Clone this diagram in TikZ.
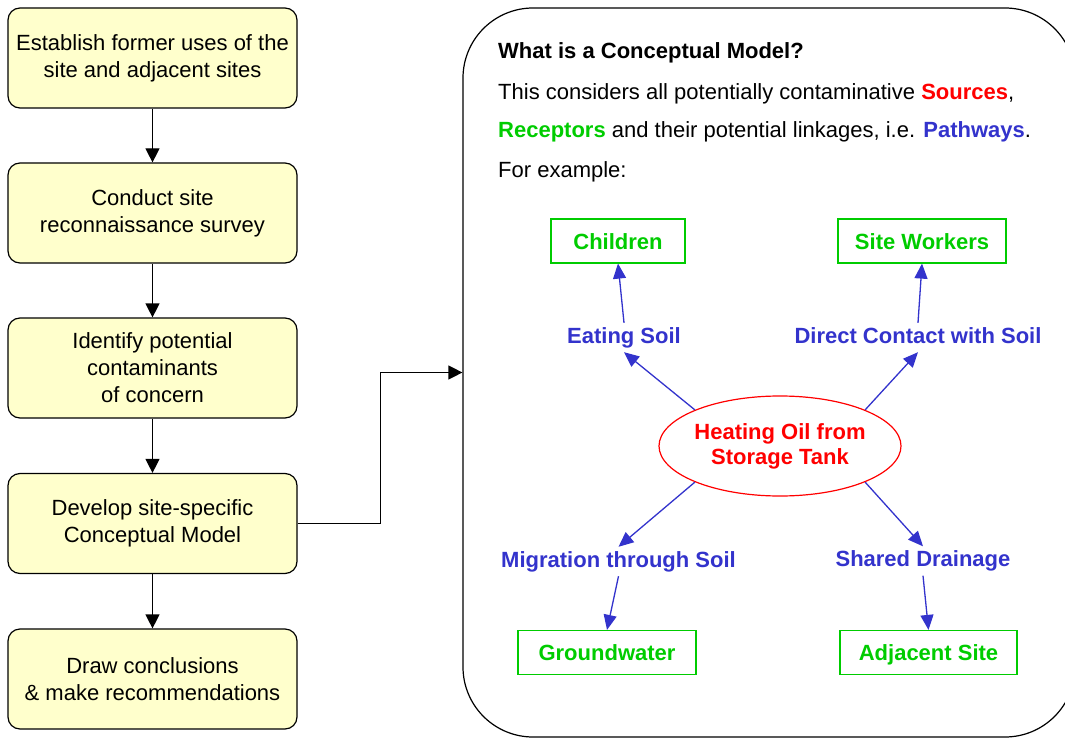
\documentclass[tikz,border=0pt]{standalone}
\usepackage{fontspec}
\setmainfont{Liberation Sans}
\usepackage{tikz}
\usetikzlibrary{arrows.meta,shapes.geometric}
\definecolor{stagefill}{RGB}{255,255,204}
\definecolor{srcred}{RGB}{255,0,0}
\definecolor{recgreen}{RGB}{0,204,0}
\definecolor{pathblue}{RGB}{51,51,204}
\tikzset{
  stage/.style={
    shape = rectangle,
    rounded corners = 12pt,
    draw,
    fill = stagefill,
    line width = 1.2pt,
    minimum width = 289pt,
    minimum height = 100pt,
    align = center
  },
}
\tikzset{
  panel/.style={
    shape = rectangle,
    rounded corners = 70pt,
    draw,
    line width = 1.2pt,
    minimum width = 612pt,
    minimum height = 729pt,
    inner sep = 0pt
  },
}
\tikzset{
  source/.style={
    shape = ellipse,
    draw = srcred,
    text = srcred,
    line width = 1.2pt,
    minimum width = 236pt,
    minimum height = 100pt,
    inner sep = 0pt,
    align = center,
    font = \fontsize{22}{25}\selectfont\bfseries
  },
  receptor/.style={
    shape = rectangle,
    draw = recgreen,
    text = recgreen,
    line width = 1.2pt,
    minimum height = 44pt,
    inner xsep = 2pt,
    text height = 16pt,
    text depth = 0pt,
    font = \fontsize{22}{27}\selectfont\bfseries
  },
  pathway/.style={
    text = pathblue,
    inner sep = 4pt,
    text height = 16pt,
    text depth = 5pt,
    font = \fontsize{22}{27}\selectfont\bfseries
  },
  line/.style={
    anchor = base west,
    inner sep = 0pt
  },
  flow/.style={
    line width = 1.2pt,
    -{Triangle[length=14pt,width=14pt]}
  },
  link/.style={
    pathblue,
    line width = 1.3pt,
    -{Triangle[length=15pt,width=13pt]}
  }
}
\begin{document}
\begin{tikzpicture}[x=1pt, y=-1pt, font=\fontsize{22}{27}\selectfont]
    \useasboundingbox (0,0) rectangle (1065,738);

    % steps of the assessment
    \node[stage] (s1) at (152.5,58) {Establish former uses of the\\site and adjacent sites};
    \node[stage] (s2) at (152.5,213) {Conduct site\\reconnaissance survey};
    \node[stage] (s3) at (152.5,368) {Identify potential\\contaminants\\of concern};
    \node[stage] (s4) at (152.5,523.5) {Develop site-specific\\Conceptual Model};
    \node[stage] (s5) at (152.5,679) {Draw conclusions\\\& make recommendations};

    \draw[flow] (s1) -- (s2);
    \draw[flow] (s2) -- (s3);
    \draw[flow] (s3) -- (s4);
    \draw[flow] (s4) -- (s5);

    % conceptual model panel
    \node[panel] (panel) at (769,372.5) {};
    \draw[flow] (s4.east) -- ++(83,0) |- (panel.west);

    \node[line] (title) at (498,59) {\bfseries What is a Conceptual Model?};
    \node[line] (intro) at (498,100) {This considers all potentially contaminative \textcolor{srcred}{\bfseries Sources},};
    \node[line] (links) at (498,138) {\textcolor{recgreen}{\bfseries Receptors} and their potential linkages, i.e. \textcolor{pathblue}{\bfseries Pathways}.};
    \node[line] (eg) at (498,178) {For example:};

    \node[source] (oil) at (780,446) {Heating Oil from\\Storage Tank};

    \node[pathway] (eat) at (624,337.5) {Eating Soil};
    \node[pathway] (touch) at (918,337.5) {Direct Contact with Soil};
    \node[pathway] (migr) at (618.5,561.5) {Migration through Soil};
    \node[pathway] (drain) at (923,561) {Shared Drainage};

    \node[receptor, minimum width=134pt] (kids) at (618,241) {Children};
    \node[receptor, minimum width=168pt] (workers) at (922,241) {Site Workers};
    \node[receptor, minimum width=178pt] (ground) at (607,652.5) {Groundwater};
    \node[receptor, minimum width=177pt] (adj) at (928.5,652.5) {Adjacent Site};

    \draw[link] (oil.157) -- (eat.south);
    \draw[link] (oil.23) -- (touch.south);
    \draw[link] (oil.203) -- (migr.north);
    \draw[link] (oil.-23) -- (drain.north);

    \draw[link] (eat.north) -- (kids.south);
    \draw[link] (touch.north) -- (workers.south);
    \draw[link] (migr.south) -- (ground.north);
    \draw[link] (drain.south) -- (adj.north);
\end{tikzpicture}
\end{document}
